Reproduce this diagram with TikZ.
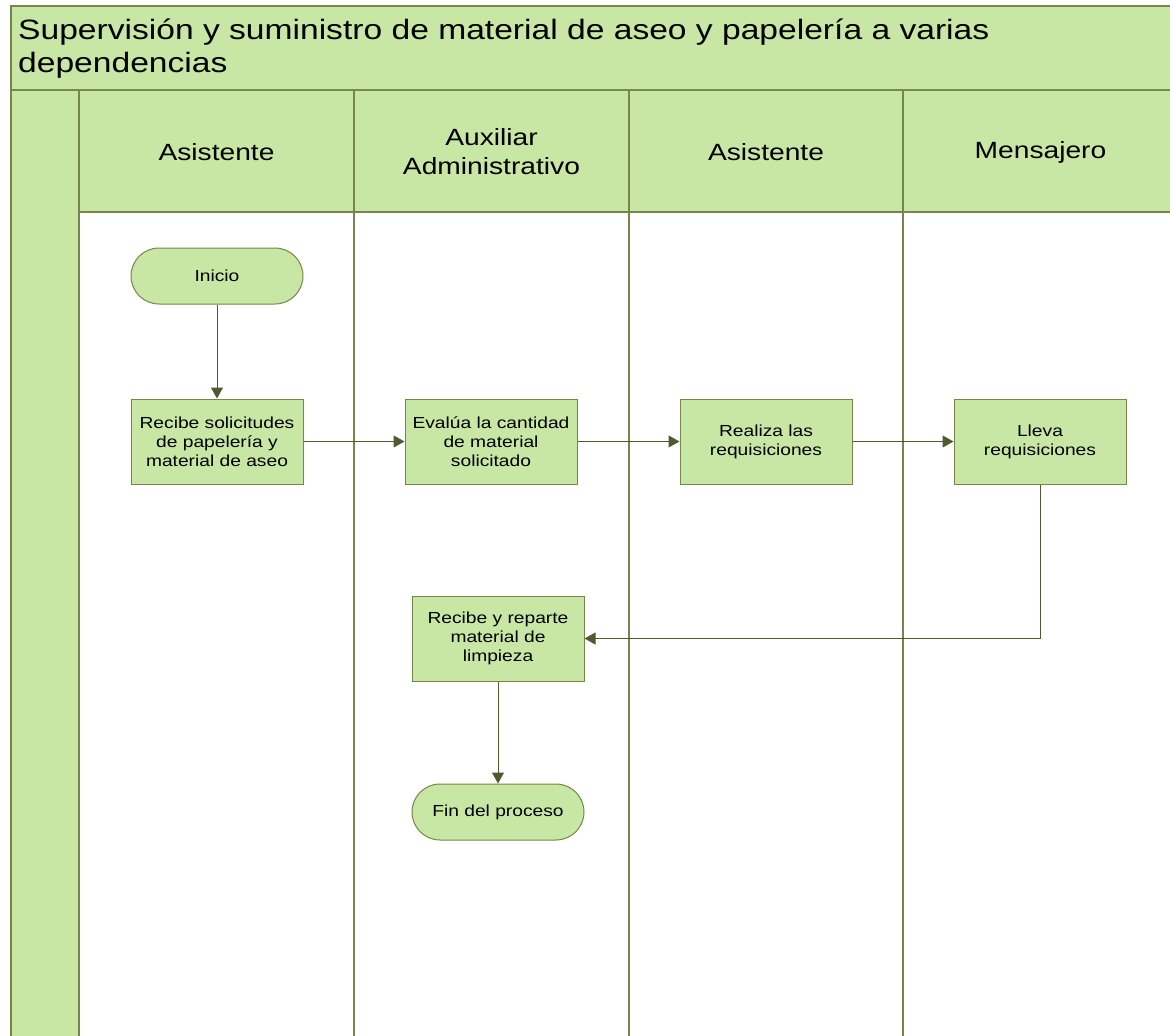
\documentclass[tikz,border=0pt]{standalone}
\usepackage{fontspec}
\setmainfont[FakeStretch=1.2]{Liberation Sans}
\usetikzlibrary{arrows.meta}
\definecolor{poolfill}{HTML}{C8E6A4}
\definecolor{poolline}{HTML}{76864A}
\definecolor{conn}{HTML}{4F5A2E}
\tikzset{
  proc/.style={draw=poolline, fill=poolfill, line width=1pt, minimum width=172pt, minimum height=85pt, inner sep=0pt, align=center, font=\fontsize{16}{19}\selectfont},
  term/.style={proc, minimum height=56pt, rounded corners=28pt},
  flow/.style={draw=conn, line width=1pt, -{Triangle[length=11pt,width=12pt]}},
  lanetitle/.style={font=\fontsize{23.5}{29}\selectfont, align=center, inner sep=0pt},
  pooltitle/.style={font=\fontsize{28}{33}\selectfont, anchor=base west, inner sep=0pt},
  laneline/.style={draw=poolline, line width=1.1pt}
}
\begin{document}
\begin{tikzpicture}[x=1pt,y=-1pt]
\useasboundingbox (0,0) rectangle (1170,1036);
\clip (0,0) rectangle (1170,1036);
% pool background
\fill[poolfill] (11,6) rectangle (1180,90);
\fill[poolfill] (11,90) rectangle (79,1045);
\fill[poolfill] (79,90) rectangle (1180,212);
% lane lines
\draw[laneline] (79,90) -- (79,1045);
\draw[laneline] (354,90) -- (354,1045);
\draw[laneline] (629,90) -- (629,1045);
\draw[laneline] (903,90) -- (903,1045);
\draw[laneline] (79,212) -- (1180,212);
\draw[draw=poolline!80!gray, line width=1.5pt] (11,90) -- (1180,90);
\draw[draw=poolline, line width=1.6pt] (1180,6) -- (11,6) -- (11,1045);
% title
\node[pooltitle] (t1) at (18,39.5) {Supervisión y suministro de material de aseo y papelería a varias};
\node[pooltitle] (t2) at (18,72) {dependencias};
% lane headers
\node[lanetitle] (h1) at (216.5,152) {Asistente};
\node[lanetitle] (h2) at (491.5,152) {Auxiliar\\Administrativo};
\node[lanetitle] (h3) at (766,152) {Asistente};
\node[lanetitle] (h4) at (1040.5,152) {Mensajero};
% nodes
\node[term] (inicio) at (217,276) {Inicio};
\node[proc] (recibe) at (217,441.5) {Recibe solicitudes\\de papelería y\\material de aseo};
\node[proc] (evalua) at (491,441.5) {Evalúa la cantidad\\de material\\solicitado};
\node[proc] (realiza) at (766,441.5) {Realiza las\\requisiciones};
\node[proc] (lleva) at (1040,441.5) {Lleva\\requisiciones};
\node[proc] (reparte) at (498,638.5) {Recibe y reparte\\material de\\limpieza};
\node[term] (fin) at (498,812) {Fin del proceso};
% connectors
\draw[flow] (inicio) -- (recibe);
\draw[flow] (recibe) -- (evalua);
\draw[flow] (evalua) -- (realiza);
\draw[flow] (realiza) -- (lleva);
\draw[flow] (lleva.south) |- (reparte.east);
\draw[flow] (reparte) -- (fin);
\end{tikzpicture}
\end{document}
